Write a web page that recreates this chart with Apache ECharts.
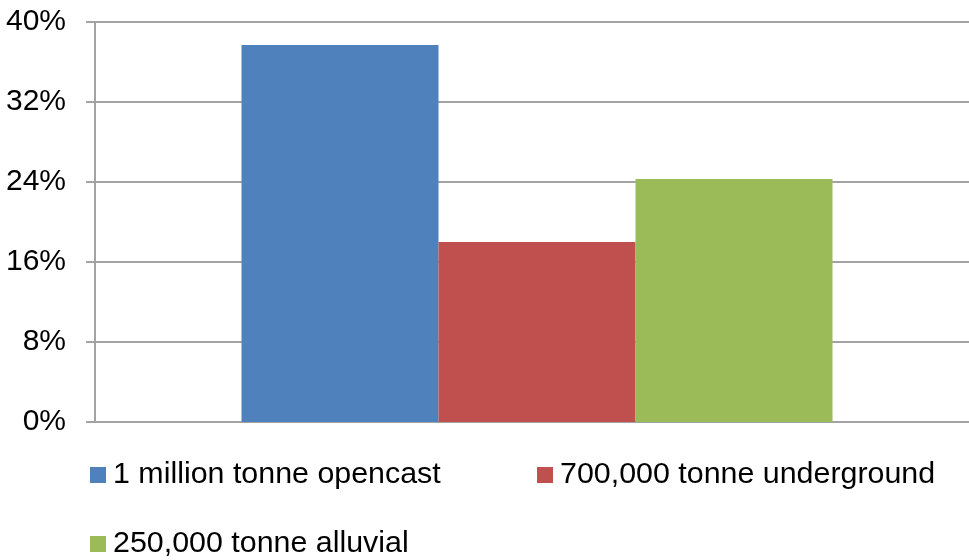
<!DOCTYPE html>
<html>
<head>
<meta charset="utf-8">
<script src="https://cdn.jsdelivr.net/npm/echarts@6/dist/echarts.min.js"></script>
<style>
  html, body { margin: 0; padding: 0; background: #fff; }
  #chart { width: 969px; height: 560px; }
</style>
</head>
<body>
<div id="chart"></div>
<script>
// Share of operations by mine type (%)
const categories = [''];
const seriesNames = ['1 million tonne opencast', '700,000 tonne underground', '250,000 tonne alluvial'];
const opencast = [37.7];
const underground = [18.0];
const alluvial = [24.3];
const yTicks = { min: 0, max: 40, interval: 8 };

const colors = ['#4F81BD', '#C0504D', '#9BBB59'];
const values = [opencast, underground, alluvial];
const font = 'Liberation Sans, Arial, sans-serif';
const gridGray = '#a3a3a3';

const chart = echarts.init(document.getElementById('chart'), null, { renderer: 'canvas' });

const legendBase = {
  orient: 'horizontal',
  itemWidth: 16,
  itemHeight: 16,
  itemGap: 7,
  icon: 'rect',
  textStyle: { fontFamily: font, fontSize: 30.4, lineHeight: 30, color: '#000', padding: [0, 0, 0, 2] },
  padding: 0,
  selectedMode: false
};

chart.setOption({
  animation: false,
  color: colors,
  // grid 0 carries the visible axes and gridlines; grid 1 holds the bars
  grid: [
    { left: 95, right: 0, top: 22, height: 400, containLabel: false },
    { left: 105, right: 0, top: 22, height: 400, containLabel: false }
  ],
  legend: [
    Object.assign({}, legendBase, { left: 90, top: 460, data: [seriesNames[0]] }),
    Object.assign({}, legendBase, { left: 537, top: 460, data: [seriesNames[1]] }),
    Object.assign({}, legendBase, { left: 90, top: 529, data: [seriesNames[2]] })
  ],
  xAxis: [
    {
      type: 'category',
      gridIndex: 0,
      data: categories,
      axisLine: { show: true, lineStyle: { color: gridGray, width: 2 } },
      axisTick: { show: false },
      axisLabel: { show: false },
      splitLine: { show: false }
    },
    {
      type: 'category',
      gridIndex: 1,
      data: categories,
      show: false
    }
  ],
  yAxis: [
    {
      type: 'value',
      gridIndex: 0,
      min: yTicks.min,
      max: yTicks.max,
      interval: yTicks.interval,
      axisLine: { show: true, lineStyle: { color: gridGray, width: 2 } },
      axisTick: { show: true, inside: false, length: 9, lineStyle: { color: gridGray, width: 2 } },
      axisLabel: {
        formatter: '{value}%',
        fontFamily: font,
        fontSize: 30,
        color: '#000',
        margin: 29,
        padding: [4, 0, 0, 0]
      },
      splitLine: { show: true, lineStyle: { color: gridGray, width: 2 } }
    },
    {
      type: 'value',
      gridIndex: 1,
      min: yTicks.min,
      max: yTicks.max,
      interval: yTicks.interval,
      show: false
    }
  ],
  series: seriesNames.map((name, i) => ({
    name: name,
    type: 'bar',
    xAxisIndex: 1,
    yAxisIndex: 1,
    data: values[i],
    barGap: 0,
    barWidth: 197,
    itemStyle: { color: colors[i] }
  }))
});
</script>
</body>
</html>
